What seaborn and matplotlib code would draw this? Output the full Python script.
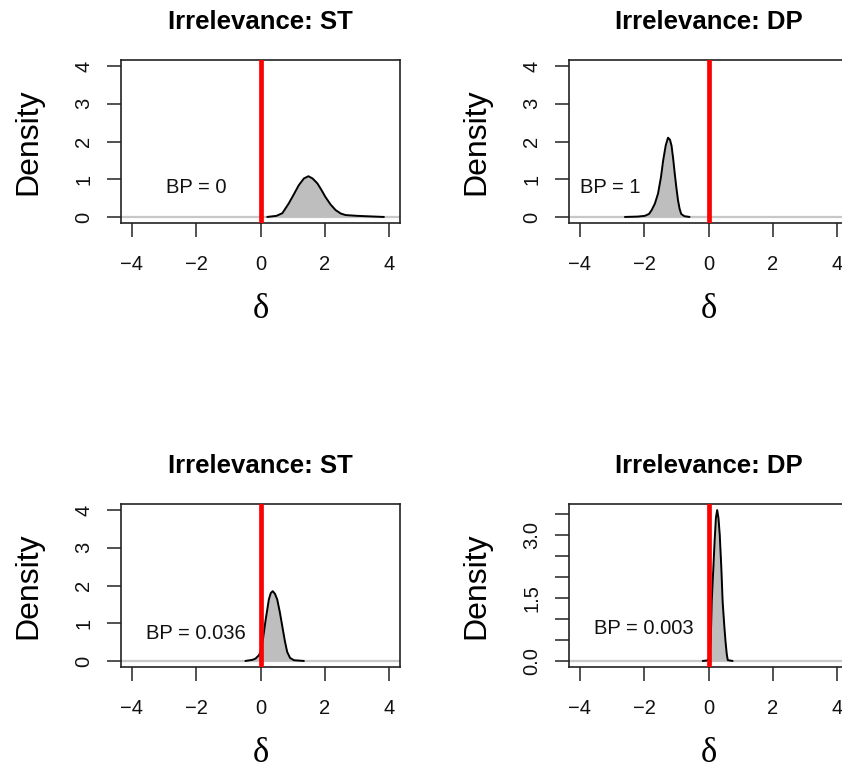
import numpy as np
import matplotlib
matplotlib.use("Agg")
import matplotlib.pyplot as plt
import seaborn as sns

# panel titles and annotations
titles = ["Irrelevance: ST", "Irrelevance: DP", "Irrelevance: ST", "Irrelevance: DP"]
bp_labels = ["BP = 0", "BP = 1", "BP = 0.036", "BP = 0.003"]
bp_x = [-2.0, -3.05, -2.0, -2.0]
bp_y = [0.79, 0.79, 0.73, 0.77]

# posterior density curves
d1_x = [0.21, 0.5, 0.68, 0.88, 1.05, 1.19, 1.35, 1.49, 1.62, 1.77, 1.9, 2.02, 2.18, 2.34, 2.5, 2.65, 3.0, 3.27, 3.84]
d1_y = [0.0, 0.03, 0.1, 0.36, 0.62, 0.84, 1.02, 1.08, 1.02, 0.89, 0.71, 0.53, 0.33, 0.18, 0.09, 0.05, 0.03, 0.02, 0.0]

d2_x = [-2.6, -2.2, -1.98, -1.85, -1.77, -1.67, -1.57, -1.48, -1.41, -1.33, -1.26, -1.2, -1.15, -1.1, -1.05, -1.0, -0.95, -0.9, -0.85, -0.75, -0.59]
d2_y = [0.0, 0.01, 0.03, 0.08, 0.18, 0.35, 0.62, 1.05, 1.5, 1.9, 2.1, 2.05, 1.89, 1.55, 1.15, 0.78, 0.45, 0.22, 0.08, 0.02, 0.0]

d3_x = [-0.47, -0.25, -0.16, -0.05, 0.0, 0.08, 0.16, 0.26, 0.32, 0.38, 0.45, 0.52, 0.6, 0.68, 0.76, 0.83, 0.92, 1.04, 1.35]
d3_y = [0.0, 0.03, 0.06, 0.15, 0.24, 0.6, 1.09, 1.63, 1.8, 1.85, 1.78, 1.63, 1.3, 0.91, 0.52, 0.24, 0.08, 0.02, 0.0]

d4_x = [-0.18, -0.05, 0.03, 0.07, 0.1, 0.15, 0.19, 0.23, 0.27, 0.31, 0.35, 0.4, 0.44, 0.49, 0.53, 0.57, 0.6, 0.75]
d4_y = [0.0, 0.01, 0.06, 0.5, 1.41, 2.2, 2.85, 3.4, 3.59, 3.4, 3.0, 2.2, 1.41, 0.85, 0.46, 0.15, 0.02, 0.0]

xs = [d1_x, d2_x, d3_x, d4_x]
ys = [d1_y, d2_y, d3_y, d4_y]

x_ticks = [-4, -2, 0, 2, 4]
y_ticks_std = [0, 1, 2, 3, 4]
y_ticks_last = [0, 0.5, 1.0, 1.5, 2.0, 2.5, 3.0, 3.5]
y_labels_last = ["0.0", "", "", "1.5", "", "", "3.0", ""]
y_max = [4, 4, 4, 3.59]

sns.set_style("ticks")
plt.rcParams['font.family'] = ['Liberation Sans', 'DejaVu Sans']
plt.rcParams['text.color'] = "black"
plt.rcParams['axes.labelcolor'] = "black"

W, H = 842, 769
fig = plt.figure(figsize=(W / 100, H / 100), dpi=100)

# axes boxes in pixels (left, top, right, bottom)
boxes = [(121, 60, 400, 223), (569, 60, 848, 223),
         (121, 504, 400, 667), (569, 504, 848, 667)]

for i in range(4):
    l, t, r, b = boxes[i]
    ax = fig.add_axes([l / W, 1 - b / H, (r - l) / W, (b - t) / H])
    ax.axhline(0, color="#c8c8c8", lw=1.6, zorder=1)
    ax.fill_between(xs[i], ys[i], 0, color="#bebebe", zorder=2, lw=0)
    sns.lineplot(x=xs[i], y=ys[i], ax=ax, color="black", lw=1.4, estimator=None,
                 sort=False, zorder=3)
    ax.axvline(0, color="red", lw=3.4, zorder=4)
    ax.text(bp_x[i], bp_y[i], bp_labels[i], ha="center", va="center", fontsize=14.5,
            color="#111111", zorder=5)

    ax.set_xlim(-4.34, 4.34)
    m = y_max[i]
    ax.set_ylim(-0.04 * m, 1.04 * m)
    ax.set_xticks(x_ticks)
    ax.set_xticklabels([str(v) if v >= 0 else "\u2212" + str(-v) for v in x_ticks])
    if i == 3:
        ax.set_yticks(y_ticks_last)
        ax.set_yticklabels(y_labels_last)
    else:
        ax.set_yticks(y_ticks_std)
        ax.set_yticklabels([str(v) for v in y_ticks_std])
    for lab in ax.get_yticklabels():
        lab.set_rotation(90)
        lab.set_va("center")
    ax.tick_params(axis="both", direction="out", length=10, width=1.1, color="#222222",
                   labelsize=14.5, labelcolor="#111111", bottom=True, left=True)
    ax.tick_params(axis="x", pad=13)
    ax.tick_params(axis="y", pad=10)
    for s in ax.spines.values():
        s.set_color("#222222")
        s.set_linewidth(1.2)
        s.set_visible(True)

    ax.set_title(titles[i], fontsize=18.5, fontweight="bold", pad=22)
    ax.set_ylabel("Density", fontsize=23)
    ax.yaxis.set_label_coords(-0.28, 0.5)
    ax.set_xlabel("\u03b4", fontsize=25, family=["Liberation Serif", "DejaVu Serif"])
    ax.xaxis.set_label_coords(0.5, -0.43)

fig.savefig("out.png", dpi=100)
